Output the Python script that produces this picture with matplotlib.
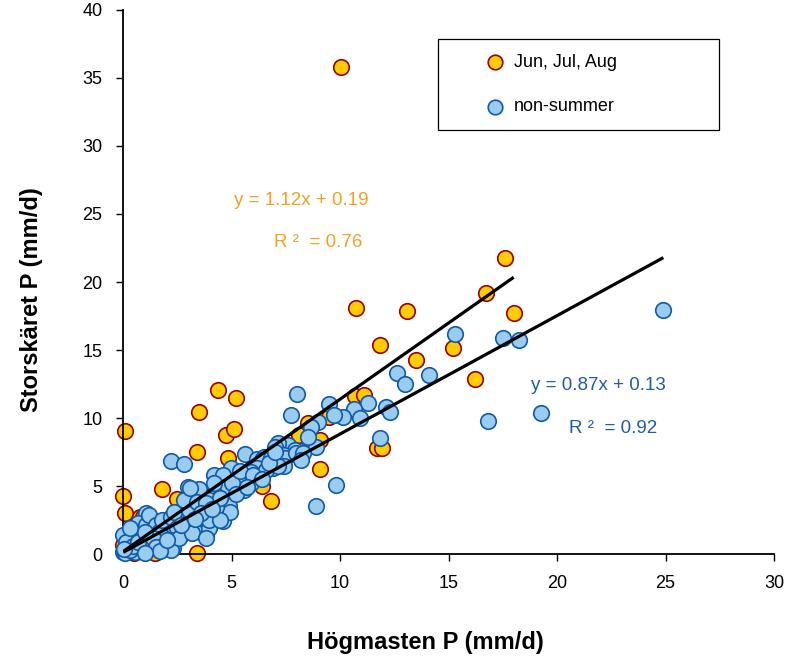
import matplotlib
matplotlib.use("Agg")
import matplotlib.pyplot as plt
import matplotlib.patches as mpatches
import numpy as np

plt.rcParams['font.family'] = ['Liberation Sans', 'DejaVu Sans']

# --- data ---
# summer (Jun, Jul, Aug)
summer_x = [0.1, 0.0, 0.1, 1.8, 2.5, 3.4, 4.35, 5.2, 3.5, 3.4, 4.75, 5.1, 4.85, 6.8, 6.4,
            9.05, 8.1, 8.5, 9.06, 9.5, 10.7, 11.1, 11.7, 11.95, 10.05, 17.6, 16.7, 10.75,
            13.1, 18.0, 11.85, 15.2, 13.5, 16.2,
            0.75, 1.45, 0.0, 1.7, 4.4, 0.2, 2.0, 0.5, 3.0, 5.5, 6.0, 7.2, 1.2, 0.9]
summer_y = [9.05, 4.3, 3.0, 4.75, 4.05, 0.05, 12.06, 11.5, 10.45, 7.5, 8.75, 9.2, 7.1, 3.9, 5.0,
            6.25, 8.75, 9.6, 8.4, 10.1, 11.6, 11.7, 7.8, 7.8, 35.8, 21.8, 19.2, 18.1,
            17.9, 17.75, 15.4, 15.15, 14.3, 12.9,
            2.74, 0.07, 0.66, 1.2, 2.5, 1.5, 2.0, 0.1, 2.7, 5.2, 6.5, 7.2, 1.8, 2.74]

# non-summer
other_x = [24.9, 19.25, 16.8, 15.3, 17.5, 18.25, 12.6, 13.0, 14.1, 11.3, 10.65, 10.15, 10.9,
           12.1, 12.3, 11.85, 8.0, 7.75, 9.5, 9.7, 9.0, 8.65, 8.6, 8.9, 8.5, 7.6, 7.9, 7.15,
           7.0, 5.6, 6.15, 6.5, 7.4, 7.45, 7.95, 8.3, 6.4, 6.15, 4.95, 6.8, 7.4, 6.9, 5.9,
           9.8, 8.9, 4.86, 4.6, 2.2, 2.8, 4.2, 4.6, 3.0, 3.5, 3.8, 2.3, 1.06, 1.2, 0.6,
           6.23, 6.6, 7.15, 5.55, 5.9, 5.3, 4.7, 4.18, 4.4, 3.95, 3.5, 2.9, 2.58, 2.35, 2.66,
           3.26, 3.95, 4.4, 4.94,
           0.0, 0.22, 0.0, 0.37, 0.6, 0.9, 1.2, 0.83, 0.52, 1.29, 0.68, 1.06, 1.2, 1.5, 1.67,
           1.8, 1.36, 1.5, 2.2, 2.35, 2.5, 2.2, 2.2, 2.58, 2.96, 3.19, 3.04, 2.8, 3.1, 3.4,
           3.8, 3.95, 4.26, 4.48, 4.18, 4.48, 3.8, 3.57, 2.66,
           0.1, 0.3, 0.15, 0.45, 0.05, 0.7, 1.0, 1.7, 1.0, 0.3,
           5.0, 5.4, 6.0, 6.7, 7.0, 5.2, 6.4, 8.2, 3.3, 4.1, 5.7, 2.0]
other_y = [17.95, 10.35, 9.75, 16.2, 15.9, 15.75, 13.3, 12.5, 13.2, 11.1, 10.7, 10.1, 10.0,
           10.8, 10.45, 8.5, 11.8, 10.2, 11.05, 10.2, 9.7, 9.35, 8.0, 7.9, 8.6, 8.0, 7.65, 8.15,
           7.9, 7.35, 7.0, 7.15, 7.3, 7.1, 7.4, 7.4, 6.9, 6.3, 6.3, 7.1, 6.5, 6.3, 6.0,
           5.05, 3.5, 3.5, 2.4, 6.86, 6.6, 5.8, 5.8, 4.9, 4.75, 1.3, 0.45, 3.0, 2.7, 2.0,
           5.7, 6.2, 6.5, 4.7, 5.2, 5.7, 4.95, 4.5, 4.1, 4.0, 3.5, 3.6, 3.1, 2.0, 1.4,
           1.76, 1.9, 2.74, 3.1,
           0.17, 0.66, 1.4, 1.17, 1.76, 1.27, 0.54, 0.3, 0.17, 0.44, 2.26, 2.13, 2.87, 2.13, 1.64,
           2.5, 1.15, 0.54, 2.74, 3.1, 1.9, 1.03, 0.3, 1.15, 2.26, 1.52, 3.24, 3.97, 4.83, 3.85,
           1.15, 2.5, 3.48, 4.1, 5.2, 2.5, 3.73, 3.0, 2.13,
           0.05, 0.3, 0.9, 0.6, 0.4, 0.9, 1.6, 0.2, 0.1, 1.9,
           5.2, 6.1, 5.8, 6.7, 7.5, 4.4, 5.5, 6.9, 2.6, 3.3, 4.9, 1.0]

# regression lines (as printed on the chart)
summer_fit = (1.12, 0.19)
other_fit = (0.87, 0.13)

orange_fill, orange_edge = "#FFCC00", "#990000"
blue_fill, blue_edge = "#99CCEE", "#0F5AA8"

fig = plt.figure(figsize=(7.85, 6.62), dpi=100)
ax = fig.add_axes([0.157, 0.163, 0.829, 0.822])

ax.scatter(summer_x, summer_y, s=125, c=orange_fill, edgecolors=orange_edge, linewidths=1.2, zorder=2, clip_on=False)
ax.scatter(other_x, other_y, s=125, c=blue_fill, edgecolors=blue_edge, linewidths=1.2, zorder=3, clip_on=False)

for xs, fit in [(summer_x, summer_fit), (other_x, other_fit)]:
    xx = np.array([min(xs), max(xs)])
    ax.plot(xx, fit[0] * xx + fit[1], color="black", lw=2.3, zorder=4, solid_capstyle="butt")

ax.text(8.2, 25.96, "y = 1.12x + 0.19", color="#F5A01E", fontsize=13.5, ha="center", va="center")
ax.text(8.97, 22.9, "R ²  = 0.76", color="#F5A01E", fontsize=13.5, ha="center", va="center")
ax.text(21.9, 12.4, "y = 0.87x + 0.13", color="#1F5BA8", fontsize=13.5, ha="center", va="center")
ax.text(22.6, 9.26, "R ²  = 0.92", color="#1F5BA8", fontsize=13.5, ha="center", va="center")

# legend box drawn by hand to match the wide frame
ax.add_patch(mpatches.Rectangle((0.483, 0.779), 0.432, 0.168, transform=ax.transAxes,
                                fill=False, edgecolor="black", lw=0.9, zorder=5))
ax.scatter([0.571], [0.904], s=110, c=orange_fill, edgecolors=orange_edge, linewidths=1.2, transform=ax.transAxes, zorder=6)
ax.scatter([0.571], [0.822], s=110, c=blue_fill, edgecolors=blue_edge, linewidths=1.2, transform=ax.transAxes, zorder=6)
ax.text(0.600, 0.904, "Jun, Jul, Aug", transform=ax.transAxes, fontsize=13, va="center")
ax.text(0.600, 0.822, "non-summer", transform=ax.transAxes, fontsize=13, va="center")

ax.set_xlim(0, 30)
ax.set_ylim(0, 40)
ax.set_xticks(range(0, 31, 5))
ax.set_yticks(range(0, 41, 5))
ax.tick_params(direction="out", length=5, width=1, labelsize=13, pad=10)
ax.spines["top"].set_visible(False)
ax.spines["right"].set_visible(False)
ax.spines["left"].set_linewidth(1.3)
ax.spines["bottom"].set_linewidth(1.3)

ax.set_xlabel("Högmasten P (mm/d)", fontsize=17, fontweight="bold")
ax.set_ylabel("Storskäret P (mm/d)", fontsize=17, fontweight="bold")
ax.xaxis.set_label_coords(0.465, -0.142)
ax.yaxis.set_label_coords(-0.124, 0.467)

plt.savefig("out.png", dpi=100)
